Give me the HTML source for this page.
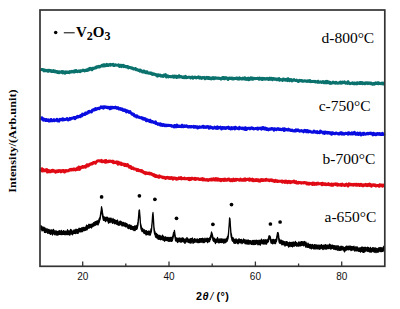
<!DOCTYPE html>
<html><head><meta charset="utf-8"><style>
html,body{margin:0;padding:0;background:#fff;}
body{width:400px;height:309px;overflow:hidden;}
svg{display:block;}
.sans{font-family:"Liberation Sans",sans-serif;}
.serif{font-family:"Liberation Serif",serif;}
</style></head><body>
<svg width="400" height="309" viewBox="0 0 400 309">
<rect width="400" height="309" fill="#fff"/>
<polyline fill="none" stroke="#0a716c" stroke-width="3.0" stroke-linejoin="round" points="40.5,69.4 41.0,69.7 41.5,69.5 42.0,69.4 42.5,69.7 43.0,69.5 43.5,70.1 44.0,70.8 44.5,70.1 45.0,70.1 45.5,70.7 46.0,70.8 46.5,70.7 47.0,70.4 47.5,70.9 48.0,71.3 48.5,70.4 49.0,70.9 49.5,70.3 50.0,70.7 50.5,70.5 51.0,71.3 51.5,70.9 52.0,71.6 52.5,71.6 53.0,71.5 53.5,70.5 54.0,71.5 54.5,71.7 55.0,71.9 55.5,71.2 56.0,71.7 56.5,71.5 57.0,71.6 57.5,72.5 58.0,71.7 58.5,72.1 59.0,72.6 59.5,71.9 60.0,72.2 60.5,72.3 61.0,72.3 61.5,71.7 62.0,72.3 62.5,72.9 63.0,71.6 63.5,72.7 64.0,72.3 64.5,72.0 65.0,73.2 65.5,72.6 66.0,71.7 66.5,72.2 67.0,72.4 67.5,72.1 68.0,72.4 68.5,72.0 69.0,72.3 69.5,72.6 70.0,71.6 70.5,72.0 71.0,71.7 71.5,71.9 72.0,71.2 72.5,71.5 73.0,71.6 73.5,72.0 74.0,72.1 74.5,70.9 75.0,71.1 75.5,71.7 76.0,70.5 76.5,71.2 77.0,71.3 77.5,71.8 78.0,71.5 78.5,71.0 79.0,70.9 79.5,70.9 80.0,71.7 80.5,70.7 81.0,70.7 81.5,71.0 82.0,70.7 82.5,70.6 83.0,70.1 83.5,70.5 84.0,70.3 84.5,70.9 85.0,70.6 85.5,70.2 86.0,70.4 86.5,69.9 87.0,70.4 87.5,69.9 88.0,70.1 88.5,69.1 89.0,69.8 89.5,68.7 90.0,68.4 90.5,69.1 91.0,68.7 91.5,69.0 92.0,69.8 92.5,68.3 93.0,68.2 93.5,68.4 94.0,68.4 94.5,67.9 95.0,67.8 95.5,68.0 96.0,67.8 96.5,66.9 97.0,67.2 97.5,67.1 98.0,66.5 98.5,67.0 99.0,66.3 99.5,67.0 100.0,66.6 100.5,66.4 101.0,66.0 101.5,66.1 102.0,65.2 102.5,65.5 103.0,66.0 103.5,64.8 104.0,66.0 104.5,64.7 105.0,65.8 105.5,65.0 106.0,65.6 106.5,65.2 107.0,64.4 107.5,65.6 108.0,65.6 108.5,64.9 109.0,64.7 109.5,64.8 110.0,64.4 110.5,65.3 111.0,64.6 111.5,64.8 112.0,64.5 112.5,64.6 113.0,64.3 113.5,65.5 114.0,64.9 114.5,65.4 115.0,65.1 115.5,64.8 116.0,65.0 116.5,65.0 117.0,65.3 117.5,65.2 118.0,65.3 118.5,64.9 119.0,65.2 119.5,66.4 120.0,65.4 120.5,65.3 121.0,66.0 121.5,66.6 122.0,65.3 122.5,66.0 123.0,65.9 123.5,65.4 124.0,66.7 124.5,66.4 125.0,66.5 125.5,66.3 126.0,66.9 126.5,66.6 127.0,66.9 127.5,66.5 128.0,66.6 128.5,67.9 129.0,67.2 129.5,67.6 130.0,67.6 130.5,67.6 131.0,67.7 131.5,68.3 132.0,68.0 132.5,68.2 133.0,68.4 133.5,69.1 134.0,69.0 134.5,69.0 135.0,68.7 135.5,68.5 136.0,69.7 136.5,69.8 137.0,69.5 137.5,69.9 138.0,70.2 138.5,70.3 139.0,70.5 139.5,70.0 140.0,71.1 140.5,70.0 141.0,71.1 141.5,71.1 142.0,71.4 142.5,72.0 143.0,72.0 143.5,71.0 144.0,70.9 144.5,72.2 145.0,71.6 145.5,72.2 146.0,72.7 146.5,71.8 147.0,71.7 147.5,72.9 148.0,73.0 148.5,73.0 149.0,73.3 149.5,73.0 150.0,72.8 150.5,73.5 151.0,73.3 151.5,73.1 152.0,74.2 152.5,74.1 153.0,74.4 153.5,73.9 154.0,74.2 154.5,74.1 155.0,74.3 155.5,74.9 156.0,74.5 156.5,75.2 157.0,75.3 157.5,76.1 158.0,74.7 158.5,75.8 159.0,75.4 159.5,75.6 160.0,75.0 160.5,75.5 161.0,76.1 161.5,75.8 162.0,75.9 162.5,75.8 163.0,76.5 163.5,76.0 164.0,75.1 164.5,75.8 165.0,75.3 165.5,74.7 166.0,76.0 166.5,76.9 167.0,76.3 167.5,75.8 168.0,75.9 168.5,76.9 169.0,76.5 169.5,76.5 170.0,76.4 170.5,76.5 171.0,76.9 171.5,76.8 172.0,76.7 172.5,76.1 173.0,76.8 173.5,76.3 174.0,77.2 174.5,76.1 175.0,76.6 175.5,76.7 176.0,76.2 176.5,77.5 177.0,77.4 177.5,76.6 178.0,77.2 178.5,77.0 179.0,75.7 179.5,77.0 180.0,76.9 180.5,77.0 181.0,76.5 181.5,76.8 182.0,76.9 182.5,77.5 183.0,77.2 183.5,77.0 184.0,77.7 184.5,76.8 185.0,76.9 185.5,76.3 186.0,77.8 186.5,77.6 187.0,77.6 187.5,77.5 188.0,77.2 188.5,77.3 189.0,77.1 189.5,77.2 190.0,77.3 190.5,78.0 191.0,77.6 191.5,77.3 192.0,77.1 192.5,77.1 193.0,78.1 193.5,77.7 194.0,77.5 194.5,77.3 195.0,77.0 195.5,77.5 196.0,77.9 196.5,77.4 197.0,77.5 197.5,77.5 198.0,77.7 198.5,76.9 199.0,77.5 199.5,77.3 200.0,78.1 200.5,77.4 201.0,78.0 201.5,78.4 202.0,77.6 202.5,77.5 203.0,77.9 203.5,77.8 204.0,77.4 204.5,78.0 205.0,78.8 205.5,77.8 206.0,77.8 206.5,77.4 207.0,78.1 207.5,77.4 208.0,77.5 208.5,78.5 209.0,77.6 209.5,78.5 210.0,78.7 210.5,78.1 211.0,78.3 211.5,78.9 212.0,78.0 212.5,77.8 213.0,77.5 213.5,78.1 214.0,78.8 214.5,78.6 215.0,77.7 215.5,77.8 216.0,77.9 216.5,78.3 217.0,78.1 217.5,78.3 218.0,78.4 218.5,78.1 219.0,78.2 219.5,78.4 220.0,78.2 220.5,78.5 221.0,79.1 221.5,78.6 222.0,78.3 222.5,77.6 223.0,78.5 223.5,77.5 224.0,77.7 224.5,78.8 225.0,78.7 225.5,78.3 226.0,77.6 226.5,78.2 227.0,78.1 227.5,78.7 228.0,79.5 228.5,78.6 229.0,78.1 229.5,77.9 230.0,78.5 230.5,78.4 231.0,78.0 231.5,78.6 232.0,78.0 232.5,79.0 233.0,79.0 233.5,79.0 234.0,78.3 234.5,78.8 235.0,78.5 235.5,78.4 236.0,78.4 236.5,78.0 237.0,77.9 237.5,79.0 238.0,78.5 238.5,78.7 239.0,79.1 239.5,77.8 240.0,78.3 240.5,78.7 241.0,78.8 241.5,78.5 242.0,79.1 242.5,78.7 243.0,78.1 243.5,78.2 244.0,79.0 244.5,78.9 245.0,77.8 245.5,79.3 246.0,78.9 246.5,79.3 247.0,78.5 247.5,78.5 248.0,78.2 248.5,79.8 249.0,78.6 249.5,79.4 250.0,78.4 250.5,78.8 251.0,77.9 251.5,78.5 252.0,79.1 252.5,78.1 253.0,79.2 253.5,78.9 254.0,78.2 254.5,78.5 255.0,78.5 255.5,78.7 256.0,78.5 256.5,78.4 257.0,78.6 257.5,78.3 258.0,78.2 258.5,78.7 259.0,79.2 259.5,78.1 260.0,78.8 260.5,78.5 261.0,78.3 261.5,79.2 262.0,78.6 262.5,79.5 263.0,78.4 263.5,79.0 264.0,78.7 264.5,78.5 265.0,79.1 265.5,78.8 266.0,79.1 266.5,78.9 267.0,78.4 267.5,78.9 268.0,78.9 268.5,79.4 269.0,78.6 269.5,79.0 270.0,78.2 270.5,79.3 271.0,78.6 271.5,78.3 272.0,79.1 272.5,79.6 273.0,78.5 273.5,78.7 274.0,78.9 274.5,78.7 275.0,79.4 275.5,78.9 276.0,79.0 276.5,79.6 277.0,79.0 277.5,79.6 278.0,79.0 278.5,78.9 279.0,78.6 279.5,80.3 280.0,79.4 280.5,79.7 281.0,79.6 281.5,79.7 282.0,79.7 282.5,80.5 283.0,79.2 283.5,79.0 284.0,79.3 284.5,79.2 285.0,80.2 285.5,80.2 286.0,79.5 286.5,79.3 287.0,79.8 287.5,80.6 288.0,78.7 288.5,80.3 289.0,79.6 289.5,80.6 290.0,79.6 290.5,80.0 291.0,79.5 291.5,79.8 292.0,80.9 292.5,80.6 293.0,80.1 293.5,80.0 294.0,79.5 294.5,80.2 295.0,80.4 295.5,80.5 296.0,80.5 296.5,80.1 297.0,80.6 297.5,80.6 298.0,81.3 298.5,81.5 299.0,80.7 299.5,80.4 300.0,80.8 300.5,80.6 301.0,80.6 301.5,80.9 302.0,80.5 302.5,81.3 303.0,81.0 303.5,81.2 304.0,81.0 304.5,80.8 305.0,80.8 305.5,81.1 306.0,81.0 306.5,81.4 307.0,81.3 307.5,80.8 308.0,81.4 308.5,80.8 309.0,81.2 309.5,81.4 310.0,80.6 310.5,81.6 311.0,81.7 311.5,81.5 312.0,81.5 312.5,81.5 313.0,81.3 313.5,81.6 314.0,81.5 314.5,81.8 315.0,81.3 315.5,81.9 316.0,81.9 316.5,81.8 317.0,81.7 317.5,82.2 318.0,81.2 318.5,82.2 319.0,82.1 319.5,82.2 320.0,82.2 320.5,81.8 321.0,82.0 321.5,82.4 322.0,82.4 322.5,82.3 323.0,81.5 323.5,82.5 324.0,82.8 324.5,82.8 325.0,82.4 325.5,81.6 326.0,82.8 326.5,82.3 327.0,81.3 327.5,82.6 328.0,81.8 328.5,81.9 329.0,82.2 329.5,83.1 330.0,82.4 330.5,82.7 331.0,83.4 331.5,83.3 332.0,82.6 332.5,82.5 333.0,82.1 333.5,82.4 334.0,82.9 334.5,82.9 335.0,82.8 335.5,83.2 336.0,82.4 336.5,82.7 337.0,83.1 337.5,83.1 338.0,83.3 338.5,83.0 339.0,82.7 339.5,83.0 340.0,82.4 340.5,82.1 341.0,83.1 341.5,82.8 342.0,83.0 342.5,82.1 343.0,82.7 343.5,82.6 344.0,82.5 344.5,81.9 345.0,82.8 345.5,83.3 346.0,83.1 346.5,82.7 347.0,82.9 347.5,83.3 348.0,81.7 348.5,82.9 349.0,83.2 349.5,83.3 350.0,83.8 350.5,83.5 351.0,83.2 351.5,83.2 352.0,83.4 352.5,82.8 353.0,83.0 353.5,83.5 354.0,83.9 354.5,83.0 355.0,83.1 355.5,83.2 356.0,83.7 356.5,83.1 357.0,83.8 357.5,82.7 358.0,83.0 358.5,83.0 359.0,83.5 359.5,83.6 360.0,82.5 360.5,82.7 361.0,83.3 361.5,82.9 362.0,82.5 362.5,83.7 363.0,83.4 363.5,83.4 364.0,83.0 364.5,83.7 365.0,83.1 365.5,83.7 366.0,82.8 366.5,82.9 367.0,83.3 367.5,82.9 368.0,83.6 368.5,83.4 369.0,82.9 369.5,83.3 370.0,83.1 370.5,83.7 371.0,83.0 371.5,83.1 372.0,83.9 372.5,84.3 373.0,84.2 373.5,83.4 374.0,83.5 374.5,84.1 375.0,83.3 375.5,82.9 376.0,83.4 376.5,83.6 377.0,83.0 377.5,82.7 378.0,82.8 378.5,83.7 379.0,83.1 379.5,83.4 380.0,83.5 380.5,83.7 381.0,83.3 381.5,83.7 382.0,83.1 382.5,83.3 383.0,83.0 383.5,84.0 384.0,83.5 384.5,83.2"/><polyline fill="none" stroke="#0a0de0" stroke-width="3.0" stroke-linejoin="round" points="40.5,118.0 41.0,118.2 41.5,118.8 42.0,117.9 42.5,118.3 43.0,118.8 43.5,120.2 44.0,119.6 44.5,119.3 45.0,119.8 45.5,120.5 46.0,119.6 46.5,119.6 47.0,120.4 47.5,120.2 48.0,120.4 48.5,119.9 49.0,121.1 49.5,121.1 50.0,120.6 50.5,120.7 51.0,119.5 51.5,120.7 52.0,120.4 52.5,120.7 53.0,120.8 53.5,120.3 54.0,119.7 54.5,120.6 55.0,120.1 55.5,120.3 56.0,120.1 56.5,120.2 57.0,119.3 57.5,120.9 58.0,120.4 58.5,120.7 59.0,121.1 59.5,120.2 60.0,119.3 60.5,119.6 61.0,119.5 61.5,119.7 62.0,119.9 62.5,118.9 63.0,120.0 63.5,119.1 64.0,119.8 64.5,119.6 65.0,119.4 65.5,119.5 66.0,119.2 66.5,119.1 67.0,118.5 67.5,119.2 68.0,119.9 68.5,119.9 69.0,119.5 69.5,119.2 70.0,118.4 70.5,119.3 71.0,118.5 71.5,118.4 72.0,118.2 72.5,118.3 73.0,117.9 73.5,117.9 74.0,117.4 74.5,117.6 75.0,118.6 75.5,117.5 76.0,117.3 76.5,117.5 77.0,117.4 77.5,116.4 78.0,116.7 78.5,117.0 79.0,116.5 79.5,116.3 80.0,116.7 80.5,115.5 81.0,115.6 81.5,115.2 82.0,115.9 82.5,114.1 83.0,114.5 83.5,114.3 84.0,114.6 84.5,114.4 85.0,114.5 85.5,113.0 86.0,113.8 86.5,113.1 87.0,112.8 87.5,113.1 88.0,112.3 88.5,111.6 89.0,112.1 89.5,111.4 90.0,111.6 90.5,111.8 91.0,111.6 91.5,111.9 92.0,110.9 92.5,110.1 93.0,110.2 93.5,109.9 94.0,109.5 94.5,110.0 95.0,109.3 95.5,108.5 96.0,109.5 96.5,108.9 97.0,108.9 97.5,108.6 98.0,108.6 98.5,108.2 99.0,108.6 99.5,108.1 100.0,108.0 100.5,107.8 101.0,106.9 101.5,107.4 102.0,107.3 102.5,107.5 103.0,106.8 103.5,108.1 104.0,107.5 104.5,106.9 105.0,106.7 105.5,107.3 106.0,107.4 106.5,107.1 107.0,107.5 107.5,107.2 108.0,107.8 108.5,107.2 109.0,107.5 109.5,108.0 110.0,108.8 110.5,107.2 111.0,107.5 111.5,107.3 112.0,108.1 112.5,107.3 113.0,107.6 113.5,107.8 114.0,107.4 114.5,107.5 115.0,107.8 115.5,107.1 116.0,107.5 116.5,108.0 117.0,108.4 117.5,108.3 118.0,107.7 118.5,108.4 119.0,109.0 119.5,109.0 120.0,108.9 120.5,108.6 121.0,109.4 121.5,109.0 122.0,108.9 122.5,109.2 123.0,110.3 123.5,109.9 124.0,110.5 124.5,109.9 125.0,110.7 125.5,110.1 126.0,110.5 126.5,111.9 127.0,111.3 127.5,110.9 128.0,111.3 128.5,111.8 129.0,112.4 129.5,111.9 130.0,111.6 130.5,112.6 131.0,113.0 131.5,113.3 132.0,114.2 132.5,114.0 133.0,114.5 133.5,114.0 134.0,115.2 134.5,116.0 135.0,115.7 135.5,115.7 136.0,115.9 136.5,116.9 137.0,115.9 137.5,116.5 138.0,117.0 138.5,117.3 139.0,117.0 139.5,117.5 140.0,117.4 140.5,117.8 141.0,117.9 141.5,117.6 142.0,118.3 142.5,118.8 143.0,118.2 143.5,118.7 144.0,119.2 144.5,118.6 145.0,119.3 145.5,118.9 146.0,120.1 146.5,120.8 147.0,120.8 147.5,119.9 148.0,120.5 148.5,120.4 149.0,120.6 149.5,121.4 150.0,120.2 150.5,121.5 151.0,121.1 151.5,122.0 152.0,121.6 152.5,121.4 153.0,122.0 153.5,122.4 154.0,122.3 154.5,122.7 155.0,122.4 155.5,121.9 156.0,123.5 156.5,123.6 157.0,123.5 157.5,123.6 158.0,124.3 158.5,123.8 159.0,123.8 159.5,124.2 160.0,124.9 160.5,123.9 161.0,125.2 161.5,124.5 162.0,124.4 162.5,125.5 163.0,125.0 163.5,124.5 164.0,124.9 164.5,125.6 165.0,125.7 165.5,125.1 166.0,125.5 166.5,125.7 167.0,125.1 167.5,125.6 168.0,125.5 168.5,125.3 169.0,125.3 169.5,125.6 170.0,125.6 170.5,125.4 171.0,125.5 171.5,126.2 172.0,125.8 172.5,126.2 173.0,126.3 173.5,126.1 174.0,126.9 174.5,125.5 175.0,126.3 175.5,125.8 176.0,126.8 176.5,126.7 177.0,125.1 177.5,125.6 178.0,126.4 178.5,126.4 179.0,126.4 179.5,126.1 180.0,126.3 180.5,126.5 181.0,126.1 181.5,126.7 182.0,125.2 182.5,126.5 183.0,125.8 183.5,126.7 184.0,126.2 184.5,125.9 185.0,126.5 185.5,126.0 186.0,126.0 186.5,125.7 187.0,126.4 187.5,126.7 188.0,127.0 188.5,126.5 189.0,127.0 189.5,126.6 190.0,126.6 190.5,126.9 191.0,127.1 191.5,126.5 192.0,126.6 192.5,126.7 193.0,126.8 193.5,126.4 194.0,127.3 194.5,126.6 195.0,127.1 195.5,126.5 196.0,127.1 196.5,127.1 197.0,126.8 197.5,127.9 198.0,127.2 198.5,127.8 199.0,127.5 199.5,126.8 200.0,126.9 200.5,127.3 201.0,127.2 201.5,127.2 202.0,127.0 202.5,126.4 203.0,127.1 203.5,126.2 204.0,127.4 204.5,126.9 205.0,127.0 205.5,127.2 206.0,127.5 206.5,126.7 207.0,126.6 207.5,126.9 208.0,126.5 208.5,127.0 209.0,128.2 209.5,127.0 210.0,127.8 210.5,126.9 211.0,127.7 211.5,127.4 212.0,127.5 212.5,127.8 213.0,128.4 213.5,127.7 214.0,127.7 214.5,127.2 215.0,127.9 215.5,127.6 216.0,128.1 216.5,127.7 217.0,128.5 217.5,126.9 218.0,127.6 218.5,128.2 219.0,127.6 219.5,127.5 220.0,127.7 220.5,127.2 221.0,127.9 221.5,129.0 222.0,128.4 222.5,127.4 223.0,127.5 223.5,127.8 224.0,128.4 224.5,127.6 225.0,127.7 225.5,128.4 226.0,128.4 226.5,127.9 227.0,127.5 227.5,127.4 228.0,127.8 228.5,127.1 229.0,128.4 229.5,127.8 230.0,128.3 230.5,129.0 231.0,128.7 231.5,127.6 232.0,128.6 232.5,128.7 233.0,127.9 233.5,127.8 234.0,128.2 234.5,127.5 235.0,128.9 235.5,127.2 236.0,127.8 236.5,128.2 237.0,128.2 237.5,128.4 238.0,128.4 238.5,128.2 239.0,128.8 239.5,127.4 240.0,128.3 240.5,128.0 241.0,128.4 241.5,128.5 242.0,127.9 242.5,128.1 243.0,128.7 243.5,128.5 244.0,128.1 244.5,129.3 245.0,129.4 245.5,127.7 246.0,128.5 246.5,129.5 247.0,128.8 247.5,128.5 248.0,128.3 248.5,128.2 249.0,128.3 249.5,128.2 250.0,128.8 250.5,128.3 251.0,128.2 251.5,127.9 252.0,128.4 252.5,128.1 253.0,128.4 253.5,128.9 254.0,128.6 254.5,128.7 255.0,128.6 255.5,128.5 256.0,128.4 256.5,128.4 257.0,128.8 257.5,128.0 258.0,129.1 258.5,128.5 259.0,128.2 259.5,128.3 260.0,128.2 260.5,128.6 261.0,128.2 261.5,129.1 262.0,128.2 262.5,127.6 263.0,128.3 263.5,127.7 264.0,128.6 264.5,129.1 265.0,128.9 265.5,128.1 266.0,128.3 266.5,129.5 267.0,128.9 267.5,128.7 268.0,129.2 268.5,129.9 269.0,129.4 269.5,128.9 270.0,129.0 270.5,129.2 271.0,128.6 271.5,128.5 272.0,129.0 272.5,128.6 273.0,129.0 273.5,129.1 274.0,130.1 274.5,128.7 275.0,129.1 275.5,129.1 276.0,129.4 276.5,129.7 277.0,129.0 277.5,128.9 278.0,128.6 278.5,129.0 279.0,129.6 279.5,129.5 280.0,129.0 280.5,129.3 281.0,129.6 281.5,129.8 282.0,129.3 282.5,129.5 283.0,128.9 283.5,129.2 284.0,130.5 284.5,128.8 285.0,129.7 285.5,129.9 286.0,129.7 286.5,129.5 287.0,129.9 287.5,130.0 288.0,130.0 288.5,129.2 289.0,130.0 289.5,129.7 290.0,129.9 290.5,130.3 291.0,130.5 291.5,130.6 292.0,130.0 292.5,130.7 293.0,130.8 293.5,130.9 294.0,131.0 294.5,130.4 295.0,130.4 295.5,130.9 296.0,129.9 296.5,130.7 297.0,130.4 297.5,130.5 298.0,129.9 298.5,130.3 299.0,130.7 299.5,131.2 300.0,131.2 300.5,130.8 301.0,130.8 301.5,130.5 302.0,131.1 302.5,130.9 303.0,131.3 303.5,131.8 304.0,131.1 304.5,130.4 305.0,130.8 305.5,130.5 306.0,130.7 306.5,131.8 307.0,131.4 307.5,130.6 308.0,131.7 308.5,132.0 309.0,131.3 309.5,131.2 310.0,131.3 310.5,131.7 311.0,131.9 311.5,132.1 312.0,132.2 312.5,132.2 313.0,132.3 313.5,132.0 314.0,131.1 314.5,131.7 315.0,132.0 315.5,131.7 316.0,132.3 316.5,131.8 317.0,131.6 317.5,132.7 318.0,132.4 318.5,132.2 319.0,132.6 319.5,132.7 320.0,132.4 320.5,131.1 321.0,132.0 321.5,132.1 322.0,131.9 322.5,132.5 323.0,133.0 323.5,132.3 324.0,132.0 324.5,133.5 325.0,132.4 325.5,132.1 326.0,132.8 326.5,132.9 327.0,132.4 327.5,133.1 328.0,132.6 328.5,132.4 329.0,133.0 329.5,133.3 330.0,132.7 330.5,133.1 331.0,133.0 331.5,134.3 332.0,132.7 332.5,133.7 333.0,133.1 333.5,133.1 334.0,133.5 334.5,133.6 335.0,133.8 335.5,133.4 336.0,133.0 336.5,133.0 337.0,133.5 337.5,133.5 338.0,133.9 338.5,133.5 339.0,133.8 339.5,134.0 340.0,133.4 340.5,132.7 341.0,132.8 341.5,132.7 342.0,134.1 342.5,133.0 343.0,133.9 343.5,133.7 344.0,134.2 344.5,133.9 345.0,133.4 345.5,133.3 346.0,133.5 346.5,133.5 347.0,133.2 347.5,133.4 348.0,134.2 348.5,132.7 349.0,133.6 349.5,133.1 350.0,133.6 350.5,133.9 351.0,133.5 351.5,133.9 352.0,132.8 352.5,134.0 353.0,133.3 353.5,133.8 354.0,133.7 354.5,132.4 355.0,133.3 355.5,133.7 356.0,134.3 356.5,133.8 357.0,133.8 357.5,133.0 358.0,134.3 358.5,134.5 359.0,133.7 359.5,133.6 360.0,133.0 360.5,134.1 361.0,134.9 361.5,134.1 362.0,134.3 362.5,134.0 363.0,133.3 363.5,134.4 364.0,133.2 364.5,133.7 365.0,133.9 365.5,134.2 366.0,134.0 366.5,134.0 367.0,133.5 367.5,133.3 368.0,133.9 368.5,133.6 369.0,133.3 369.5,133.3 370.0,133.7 370.5,133.1 371.0,133.3 371.5,133.2 372.0,134.0 372.5,134.2 373.0,134.9 373.5,133.3 374.0,133.7 374.5,134.4 375.0,133.9 375.5,133.9 376.0,134.8 376.5,133.9 377.0,133.6 377.5,133.5 378.0,134.3 378.5,134.3 379.0,133.5 379.5,133.7 380.0,134.4 380.5,134.4 381.0,133.9 381.5,134.5 382.0,134.5 382.5,133.4 383.0,134.1 383.5,134.4 384.0,134.0 384.5,133.3"/><polyline fill="none" stroke="#e00a14" stroke-width="3.0" stroke-linejoin="round" points="40.5,169.3 41.0,169.9 41.5,170.4 42.0,168.8 42.5,171.1 43.0,169.5 43.5,170.5 44.0,170.7 44.5,170.7 45.0,170.4 45.5,169.9 46.0,170.8 46.5,170.3 47.0,169.6 47.5,172.1 48.0,171.2 48.5,171.7 49.0,170.6 49.5,171.7 50.0,171.8 50.5,171.8 51.0,171.1 51.5,170.6 52.0,171.1 52.5,170.2 53.0,170.4 53.5,171.2 54.0,170.8 54.5,171.1 55.0,171.1 55.5,172.1 56.0,171.8 56.5,171.2 57.0,171.7 57.5,170.8 58.0,171.0 58.5,171.5 59.0,170.6 59.5,171.0 60.0,170.5 60.5,171.1 61.0,171.8 61.5,170.7 62.0,171.1 62.5,170.6 63.0,170.5 63.5,170.4 64.0,171.6 64.5,172.0 65.0,171.1 65.5,170.5 66.0,171.1 66.5,170.6 67.0,171.0 67.5,170.7 68.0,170.7 68.5,170.7 69.0,170.1 69.5,170.1 70.0,169.5 70.5,169.9 71.0,169.4 71.5,169.9 72.0,169.4 72.5,169.8 73.0,169.9 73.5,169.0 74.0,169.1 74.5,169.0 75.0,169.6 75.5,170.0 76.0,169.5 76.5,168.8 77.0,169.5 77.5,168.1 78.0,169.3 78.5,168.2 79.0,167.1 79.5,169.4 80.0,168.7 80.5,167.4 81.0,167.8 81.5,167.4 82.0,167.4 82.5,166.5 83.0,166.7 83.5,167.1 84.0,166.8 84.5,167.0 85.0,166.4 85.5,167.2 86.0,165.7 86.5,165.9 87.0,164.8 87.5,164.9 88.0,165.9 88.5,164.7 89.0,165.2 89.5,164.7 90.0,164.1 90.5,164.2 91.0,163.9 91.5,163.6 92.0,164.0 92.5,163.7 93.0,162.9 93.5,162.5 94.0,162.8 94.5,162.4 95.0,162.7 95.5,163.2 96.0,162.2 96.5,161.7 97.0,161.4 97.5,161.0 98.0,160.8 98.5,160.7 99.0,160.8 99.5,160.8 100.0,161.2 100.5,160.7 101.0,160.8 101.5,160.4 102.0,161.7 102.5,161.2 103.0,161.7 103.5,161.3 104.0,161.7 104.5,160.9 105.0,161.3 105.5,162.3 106.0,160.5 106.5,161.6 107.0,161.9 107.5,161.4 108.0,161.5 108.5,161.8 109.0,161.0 109.5,161.5 110.0,161.0 110.5,161.1 111.0,161.2 111.5,161.5 112.0,161.7 112.5,162.0 113.0,161.2 113.5,162.8 114.0,162.6 114.5,162.5 115.0,162.1 115.5,162.3 116.0,162.7 116.5,162.7 117.0,161.9 117.5,163.1 118.0,164.2 118.5,162.2 119.0,163.6 119.5,163.4 120.0,163.3 120.5,164.1 121.0,163.1 121.5,163.8 122.0,164.6 122.5,164.0 123.0,164.0 123.5,164.4 124.0,164.3 124.5,165.4 125.0,164.4 125.5,165.4 126.0,164.7 126.5,165.7 127.0,165.6 127.5,164.6 128.0,166.0 128.5,165.7 129.0,166.2 129.5,167.3 130.0,166.3 130.5,166.5 131.0,167.9 131.5,167.5 132.0,168.4 132.5,168.0 133.0,167.7 133.5,168.2 134.0,169.0 134.5,169.1 135.0,168.9 135.5,169.1 136.0,169.2 136.5,169.2 137.0,170.5 137.5,169.8 138.0,169.5 138.5,170.0 139.0,170.7 139.5,170.8 140.0,170.6 140.5,170.6 141.0,171.1 141.5,170.5 142.0,170.8 142.5,172.0 143.0,171.5 143.5,172.1 144.0,172.7 144.5,172.6 145.0,172.5 145.5,173.6 146.0,173.1 146.5,172.8 147.0,173.4 147.5,173.5 148.0,173.0 148.5,173.6 149.0,173.7 149.5,173.0 150.0,174.0 150.5,174.1 151.0,174.1 151.5,173.7 152.0,174.5 152.5,174.8 153.0,175.0 153.5,174.6 154.0,175.6 154.5,174.9 155.0,175.5 155.5,176.4 156.0,175.6 156.5,175.9 157.0,176.7 157.5,176.2 158.0,176.4 158.5,176.8 159.0,177.3 159.5,175.9 160.0,176.6 160.5,176.7 161.0,176.7 161.5,176.9 162.0,177.0 162.5,177.6 163.0,177.1 163.5,177.6 164.0,177.8 164.5,177.3 165.0,177.7 165.5,178.5 166.0,177.9 166.5,177.5 167.0,177.8 167.5,177.4 168.0,178.0 168.5,178.3 169.0,177.6 169.5,177.9 170.0,178.5 170.5,177.8 171.0,178.2 171.5,177.6 172.0,177.8 172.5,177.9 173.0,179.2 173.5,178.0 174.0,178.0 174.5,178.0 175.0,178.2 175.5,178.6 176.0,178.4 176.5,179.3 177.0,178.5 177.5,179.0 178.0,178.5 178.5,178.7 179.0,177.8 179.5,178.4 180.0,178.5 180.5,178.4 181.0,177.6 181.5,178.9 182.0,178.4 182.5,178.4 183.0,178.5 183.5,178.5 184.0,178.8 184.5,178.1 185.0,178.3 185.5,178.8 186.0,178.8 186.5,178.6 187.0,178.5 187.5,178.4 188.0,178.8 188.5,179.4 189.0,178.4 189.5,179.6 190.0,179.3 190.5,178.7 191.0,179.3 191.5,178.3 192.0,178.2 192.5,178.4 193.0,178.8 193.5,178.9 194.0,178.8 194.5,179.1 195.0,178.2 195.5,179.4 196.0,178.5 196.5,178.9 197.0,179.0 197.5,178.7 198.0,178.6 198.5,178.8 199.0,179.3 199.5,179.6 200.0,179.6 200.5,178.9 201.0,179.0 201.5,179.0 202.0,179.6 202.5,178.5 203.0,180.0 203.5,179.3 204.0,179.1 204.5,179.7 205.0,180.0 205.5,179.7 206.0,180.0 206.5,179.6 207.0,180.1 207.5,180.2 208.0,179.6 208.5,180.3 209.0,179.7 209.5,179.7 210.0,179.2 210.5,179.5 211.0,180.0 211.5,179.1 212.0,180.0 212.5,179.9 213.0,179.8 213.5,178.7 214.0,179.7 214.5,180.0 215.0,179.4 215.5,179.8 216.0,178.6 216.5,180.0 217.0,179.4 217.5,180.1 218.0,178.9 218.5,180.0 219.0,179.6 219.5,180.1 220.0,179.3 220.5,179.5 221.0,180.7 221.5,179.4 222.0,179.4 222.5,179.6 223.0,179.3 223.5,180.3 224.0,180.5 224.5,179.4 225.0,179.0 225.5,180.3 226.0,180.3 226.5,180.1 227.0,180.3 227.5,179.4 228.0,179.7 228.5,179.1 229.0,179.1 229.5,180.2 230.0,179.5 230.5,180.8 231.0,179.8 231.5,179.5 232.0,180.1 232.5,180.6 233.0,180.0 233.5,179.2 234.0,179.9 234.5,180.4 235.0,179.6 235.5,179.4 236.0,180.2 236.5,179.9 237.0,179.3 237.5,179.6 238.0,179.5 238.5,179.9 239.0,179.9 239.5,180.3 240.0,180.1 240.5,179.1 241.0,180.0 241.5,180.2 242.0,180.0 242.5,180.3 243.0,179.6 243.5,179.4 244.0,180.3 244.5,179.4 245.0,178.9 245.5,180.3 246.0,179.5 246.5,179.7 247.0,179.2 247.5,179.3 248.0,179.4 248.5,179.7 249.0,180.1 249.5,178.9 250.0,180.2 250.5,179.4 251.0,179.4 251.5,180.2 252.0,179.9 252.5,179.2 253.0,180.8 253.5,179.6 254.0,180.1 254.5,180.0 255.0,180.6 255.5,179.8 256.0,180.4 256.5,179.7 257.0,180.5 257.5,179.7 258.0,179.8 258.5,180.9 259.0,180.2 259.5,180.1 260.0,181.1 260.5,180.2 261.0,179.7 261.5,180.4 262.0,179.5 262.5,180.6 263.0,180.6 263.5,179.9 264.0,179.8 264.5,180.2 265.0,180.2 265.5,179.7 266.0,180.4 266.5,179.3 267.0,180.0 267.5,180.1 268.0,180.2 268.5,180.4 269.0,179.8 269.5,180.6 270.0,180.3 270.5,180.1 271.0,179.8 271.5,179.9 272.0,180.7 272.5,180.1 273.0,180.6 273.5,181.1 274.0,181.1 274.5,181.4 275.0,180.6 275.5,180.3 276.0,181.2 276.5,181.0 277.0,181.4 277.5,180.9 278.0,181.5 278.5,181.4 279.0,181.3 279.5,181.3 280.0,181.3 280.5,181.2 281.0,181.3 281.5,181.7 282.0,181.0 282.5,182.1 283.0,181.3 283.5,181.8 284.0,181.4 284.5,181.3 285.0,182.4 285.5,181.4 286.0,181.0 286.5,181.3 287.0,181.5 287.5,182.6 288.0,181.8 288.5,182.2 289.0,181.3 289.5,182.0 290.0,182.1 290.5,182.7 291.0,181.6 291.5,182.2 292.0,182.1 292.5,181.6 293.0,182.0 293.5,182.0 294.0,181.1 294.5,182.4 295.0,182.5 295.5,182.0 296.0,181.7 296.5,183.0 297.0,182.5 297.5,182.9 298.0,183.1 298.5,182.2 299.0,182.9 299.5,182.4 300.0,182.6 300.5,182.6 301.0,182.7 301.5,183.2 302.0,182.8 302.5,182.7 303.0,182.7 303.5,183.0 304.0,182.5 304.5,182.7 305.0,182.9 305.5,182.8 306.0,183.0 306.5,182.8 307.0,184.0 307.5,183.7 308.0,183.4 308.5,183.2 309.0,184.2 309.5,183.4 310.0,183.3 310.5,183.5 311.0,183.5 311.5,184.0 312.0,183.4 312.5,184.4 313.0,183.1 313.5,183.8 314.0,183.1 314.5,184.4 315.0,183.5 315.5,183.6 316.0,184.1 316.5,184.3 317.0,183.2 317.5,183.6 318.0,183.2 318.5,183.9 319.0,183.8 319.5,183.7 320.0,183.6 320.5,183.8 321.0,183.6 321.5,184.2 322.0,184.7 322.5,183.2 323.0,184.0 323.5,183.9 324.0,184.4 324.5,183.8 325.0,184.1 325.5,183.8 326.0,184.6 326.5,184.3 327.0,184.2 327.5,184.5 328.0,184.3 328.5,183.7 329.0,184.7 329.5,184.6 330.0,184.4 330.5,184.9 331.0,185.1 331.5,184.0 332.0,184.2 332.5,185.3 333.0,185.2 333.5,184.3 334.0,184.1 334.5,184.3 335.0,184.4 335.5,183.9 336.0,184.7 336.5,184.1 337.0,184.1 337.5,185.1 338.0,184.4 338.5,184.7 339.0,185.0 339.5,185.1 340.0,184.6 340.5,184.7 341.0,184.4 341.5,185.5 342.0,185.0 342.5,184.2 343.0,184.7 343.5,185.1 344.0,185.0 344.5,185.6 345.0,185.4 345.5,184.5 346.0,184.7 346.5,184.2 347.0,184.9 347.5,184.8 348.0,186.0 348.5,184.8 349.0,183.8 349.5,184.5 350.0,184.9 350.5,184.2 351.0,184.4 351.5,184.7 352.0,185.0 352.5,184.8 353.0,184.4 353.5,185.2 354.0,184.6 354.5,184.6 355.0,184.2 355.5,184.5 356.0,185.2 356.5,184.2 357.0,184.9 357.5,185.2 358.0,184.7 358.5,185.0 359.0,184.4 359.5,185.5 360.0,185.4 360.5,185.1 361.0,184.2 361.5,184.5 362.0,185.4 362.5,185.7 363.0,185.1 363.5,185.6 364.0,184.7 364.5,184.9 365.0,185.0 365.5,185.2 366.0,184.4 366.5,185.5 367.0,185.7 367.5,184.6 368.0,184.5 368.5,185.3 369.0,184.8 369.5,184.0 370.0,185.5 370.5,185.2 371.0,184.9 371.5,186.1 372.0,185.2 372.5,184.8 373.0,185.2 373.5,184.7 374.0,184.9 374.5,185.4 375.0,185.0 375.5,185.0 376.0,186.0 376.5,185.7 377.0,185.6 377.5,185.5 378.0,185.5 378.5,186.0 379.0,185.3 379.5,186.2 380.0,184.9 380.5,185.3 381.0,184.8 381.5,185.2 382.0,185.6 382.5,186.1 383.0,185.1 383.5,185.5 384.0,185.3 384.5,185.2"/><polygon fill="#000" stroke="#000" stroke-width="1.1" stroke-linejoin="round" points="40.5,225.4 41.0,226.4 41.5,225.9 42.0,226.8 42.5,227.0 43.0,227.2 43.5,227.3 44.0,227.1 44.5,229.3 45.0,227.7 45.5,229.1 46.0,229.1 46.5,229.4 47.0,228.4 47.5,230.2 48.0,230.7 48.5,229.5 49.0,229.3 49.5,230.9 50.0,230.1 50.5,231.0 51.0,229.8 51.5,230.7 52.0,229.8 52.5,231.5 53.0,230.6 53.5,229.3 54.0,230.4 54.5,231.0 55.0,232.0 55.5,231.1 56.0,230.6 56.5,231.6 57.0,232.0 57.5,231.5 58.0,231.2 58.5,231.4 59.0,230.8 59.5,230.6 60.0,230.9 60.5,231.0 61.0,231.6 61.5,230.2 62.0,232.0 62.5,231.9 63.0,231.4 63.5,230.5 64.0,231.0 64.5,231.7 65.0,231.3 65.5,231.1 66.0,231.9 66.5,231.3 67.0,230.9 67.5,229.6 68.0,231.1 68.5,230.9 69.0,230.8 69.5,231.8 70.0,231.2 70.5,229.3 71.0,230.9 71.5,229.7 72.0,231.2 72.5,231.6 73.0,231.0 73.5,230.6 74.0,229.9 74.5,230.0 75.0,230.2 75.5,230.1 76.0,229.1 76.5,230.3 77.0,229.4 77.5,229.5 78.0,229.7 78.5,229.1 79.0,228.2 79.5,228.5 80.0,228.4 80.5,228.8 81.0,228.7 81.5,227.8 82.0,228.2 82.5,228.0 83.0,227.2 83.5,227.2 84.0,228.1 84.5,227.6 85.0,227.2 85.5,227.0 86.0,227.1 86.5,225.0 87.0,226.3 87.5,225.9 88.0,225.5 88.5,224.8 89.0,224.1 89.5,224.9 90.0,224.5 90.5,224.5 91.0,224.1 91.5,224.9 92.0,224.0 92.5,224.0 93.0,223.4 93.5,222.8 94.0,222.6 94.5,222.1 95.0,222.3 95.5,221.5 96.0,221.6 96.5,221.0 97.0,221.1 97.5,220.8 98.0,221.2 98.5,220.3 99.0,219.3 99.5,218.0 100.0,217.3 100.5,214.2 101.0,211.2 101.5,206.6 102.0,208.7 102.5,212.2 103.0,215.2 103.5,217.2 104.0,216.7 104.5,217.3 105.0,217.3 105.5,218.1 106.0,217.2 106.5,217.7 107.0,217.0 107.5,217.4 108.0,219.0 108.5,218.9 109.0,217.8 109.5,219.3 110.0,218.3 110.5,219.0 111.0,217.9 111.5,219.3 112.0,219.2 112.5,220.5 113.0,218.3 113.5,219.8 114.0,219.6 114.5,219.8 115.0,219.7 115.5,220.5 116.0,220.7 116.5,220.4 117.0,220.9 117.5,219.9 118.0,221.4 118.5,222.7 119.0,221.9 119.5,221.6 120.0,221.0 120.5,221.5 121.0,221.4 121.5,221.9 122.0,222.6 122.5,222.4 123.0,222.4 123.5,222.2 124.0,222.9 124.5,223.5 125.0,222.8 125.5,223.0 126.0,224.3 126.5,223.4 127.0,223.8 127.5,224.4 128.0,225.3 128.5,225.7 129.0,224.8 129.5,224.7 130.0,224.9 130.5,226.2 131.0,225.3 131.5,226.1 132.0,226.3 132.5,226.4 133.0,226.6 133.5,226.6 134.0,227.6 134.5,225.9 135.0,227.1 135.5,226.3 136.0,225.5 136.5,226.6 137.0,225.4 137.5,224.2 138.0,221.4 138.5,216.4 139.0,210.3 139.5,209.9 140.0,215.5 140.5,223.0 141.0,225.1 141.5,227.3 142.0,228.4 142.5,228.2 143.0,229.3 143.5,229.8 144.0,229.9 144.5,229.7 145.0,230.5 145.5,230.8 146.0,231.6 146.5,230.6 147.0,231.3 147.5,231.5 148.0,231.5 148.5,231.2 149.0,230.8 149.5,231.4 150.0,232.0 150.5,231.5 151.0,228.8 151.5,227.9 152.0,222.7 152.5,215.3 153.0,212.4 153.5,218.3 154.0,226.8 154.5,230.5 155.0,231.5 155.5,233.8 156.0,234.4 156.5,233.3 157.0,235.0 157.5,234.4 158.0,235.5 158.5,235.2 159.0,235.3 159.5,235.6 160.0,235.3 160.5,236.2 161.0,237.1 161.5,236.2 162.0,235.9 162.5,235.0 163.0,237.1 163.5,236.2 164.0,236.9 164.5,238.0 165.0,237.2 165.5,236.8 166.0,237.2 166.5,237.4 167.0,237.5 167.5,237.5 168.0,237.2 168.5,238.6 169.0,237.7 169.5,238.5 170.0,237.2 170.5,237.3 171.0,237.8 171.5,237.3 172.0,237.6 172.5,236.9 173.0,235.2 173.5,232.6 174.0,232.0 174.5,230.2 175.0,234.0 175.5,237.6 176.0,237.8 176.5,237.9 177.0,238.0 177.5,239.8 178.0,238.1 178.5,238.7 179.0,238.3 179.5,238.0 180.0,237.9 180.5,239.0 181.0,238.7 181.5,238.6 182.0,237.9 182.5,237.8 183.0,238.6 183.5,238.1 184.0,238.9 184.5,239.9 185.0,240.3 185.5,238.9 186.0,239.0 186.5,238.3 187.0,237.4 187.5,238.7 188.0,239.0 188.5,239.5 189.0,239.1 189.5,239.3 190.0,239.7 190.5,238.6 191.0,239.7 191.5,238.6 192.0,238.4 192.5,237.9 193.0,240.4 193.5,239.5 194.0,240.0 194.5,238.5 195.0,239.1 195.5,239.0 196.0,239.2 196.5,239.2 197.0,239.4 197.5,238.8 198.0,239.4 198.5,239.5 199.0,239.1 199.5,238.6 200.0,238.5 200.5,239.5 201.0,238.6 201.5,239.0 202.0,238.5 202.5,238.1 203.0,239.5 203.5,238.7 204.0,239.3 204.5,239.7 205.0,238.0 205.5,239.4 206.0,238.9 206.5,238.6 207.0,238.0 207.5,238.2 208.0,238.5 208.5,238.8 209.0,238.7 209.5,237.8 210.0,237.7 210.5,236.1 211.0,234.6 211.5,231.9 212.0,233.2 212.5,234.8 213.0,237.4 213.5,238.2 214.0,237.9 214.5,238.4 215.0,239.2 215.5,240.2 216.0,239.0 216.5,239.4 217.0,239.2 217.5,237.4 218.0,238.7 218.5,239.2 219.0,240.1 219.5,239.1 220.0,238.7 220.5,239.1 221.0,239.3 221.5,238.8 222.0,239.0 222.5,239.2 223.0,239.1 223.5,239.3 224.0,239.6 224.5,239.1 225.0,239.2 225.5,239.5 226.0,238.9 226.5,239.0 227.0,238.1 227.5,236.5 228.0,236.0 228.5,232.3 229.0,225.9 229.5,217.9 230.0,218.5 230.5,225.9 231.0,232.6 231.5,234.5 232.0,236.9 232.5,237.9 233.0,237.5 233.5,238.9 234.0,239.6 234.5,239.3 235.0,240.1 235.5,240.2 236.0,238.6 236.5,240.1 237.0,240.0 237.5,239.7 238.0,240.2 238.5,239.1 239.0,238.9 239.5,239.0 240.0,239.6 240.5,239.8 241.0,239.5 241.5,239.3 242.0,240.4 242.5,240.2 243.0,240.4 243.5,238.8 244.0,239.5 244.5,239.7 245.0,239.7 245.5,239.9 246.0,240.9 246.5,240.0 247.0,240.8 247.5,240.1 248.0,240.5 248.5,240.0 249.0,240.7 249.5,240.7 250.0,240.5 250.5,241.0 251.0,240.9 251.5,241.2 252.0,240.9 252.5,240.3 253.0,241.0 253.5,240.4 254.0,241.5 254.5,240.6 255.0,240.1 255.5,241.5 256.0,240.9 256.5,240.1 257.0,240.6 257.5,240.4 258.0,242.0 258.5,240.7 259.0,240.0 259.5,241.7 260.0,240.4 260.5,241.5 261.0,239.8 261.5,239.0 262.0,240.8 262.5,240.2 263.0,240.2 263.5,239.7 264.0,241.1 264.5,240.7 265.0,239.4 265.5,240.7 266.0,239.7 266.5,241.1 267.0,239.8 267.5,239.7 268.0,239.4 268.5,237.7 269.0,235.7 269.5,235.7 270.0,236.2 270.5,237.3 271.0,240.8 271.5,239.8 272.0,239.8 272.5,240.1 273.0,239.4 273.5,239.3 274.0,240.1 274.5,240.1 275.0,239.5 275.5,240.4 276.0,239.2 276.5,238.2 277.0,235.4 277.5,232.6 278.0,232.4 278.5,234.1 279.0,237.9 279.5,239.5 280.0,240.3 280.5,240.1 281.0,240.8 281.5,240.1 282.0,241.2 282.5,240.9 283.0,240.9 283.5,241.4 284.0,242.0 284.5,241.6 285.0,242.4 285.5,241.9 286.0,241.6 286.5,241.8 287.0,241.6 287.5,242.4 288.0,242.5 288.5,243.0 289.0,243.5 289.5,242.1 290.0,243.6 290.5,242.5 291.0,242.4 291.5,243.1 292.0,242.3 292.5,243.3 293.0,242.1 293.5,241.9 294.0,243.0 294.5,242.2 295.0,242.1 295.5,241.3 296.0,242.8 296.5,242.6 297.0,243.2 297.5,243.3 298.0,243.4 298.5,241.9 299.0,242.7 299.5,242.1 300.0,242.1 300.5,243.1 301.0,241.8 301.5,241.5 302.0,241.9 302.5,242.3 303.0,241.6 303.5,242.7 304.0,241.9 304.5,241.3 305.0,241.8 305.5,243.6 306.0,242.1 306.5,243.8 307.0,244.3 307.5,244.2 308.0,243.1 308.5,244.0 309.0,244.3 309.5,245.4 310.0,244.4 310.5,244.3 311.0,245.2 311.5,244.8 312.0,244.9 312.5,244.4 313.0,245.4 313.5,245.2 314.0,245.4 314.5,244.5 315.0,245.8 315.5,245.0 316.0,244.6 316.5,245.5 317.0,245.2 317.5,245.1 318.0,245.8 318.5,245.2 319.0,244.9 319.5,245.6 320.0,245.6 320.5,245.9 321.0,244.7 321.5,244.5 322.0,245.8 322.5,245.4 323.0,246.3 323.5,245.6 324.0,244.9 324.5,245.6 325.0,245.1 325.5,244.5 326.0,246.5 326.5,245.3 327.0,245.1 327.5,245.0 328.0,245.6 328.5,245.1 329.0,245.3 329.5,244.0 330.0,244.2 330.5,245.7 331.0,245.1 331.5,245.7 332.0,245.1 332.5,245.1 333.0,245.2 333.5,246.1 334.0,245.6 334.5,246.5 335.0,245.5 335.5,246.3 336.0,246.4 336.5,246.1 337.0,245.5 337.5,246.6 338.0,248.2 338.5,245.9 339.0,246.5 339.5,247.2 340.0,247.1 340.5,246.6 341.0,246.0 341.5,247.0 342.0,246.3 342.5,246.7 343.0,247.4 343.5,246.8 344.0,247.3 344.5,248.1 345.0,247.2 345.5,247.3 346.0,246.3 346.5,246.5 347.0,246.0 347.5,246.9 348.0,246.8 348.5,246.2 349.0,246.6 349.5,246.0 350.0,246.2 350.5,246.0 351.0,246.7 351.5,246.4 352.0,247.0 352.5,246.7 353.0,246.5 353.5,246.6 354.0,246.1 354.5,247.9 355.0,247.8 355.5,246.9 356.0,246.9 356.5,247.3 357.0,246.8 357.5,247.2 358.0,248.3 358.5,248.0 359.0,248.1 359.5,248.0 360.0,247.7 360.5,247.8 361.0,248.2 361.5,247.1 362.0,248.0 362.5,247.1 363.0,249.5 363.5,247.3 364.0,249.0 364.5,247.2 365.0,247.7 365.5,247.2 366.0,247.4 366.5,247.9 367.0,248.5 367.5,247.1 368.0,248.5 368.5,247.4 369.0,248.1 369.5,248.8 370.0,248.5 370.5,247.3 371.0,248.9 371.5,248.4 372.0,248.7 372.5,247.7 373.0,247.5 373.5,247.9 374.0,248.8 374.5,249.2 375.0,247.5 375.5,248.6 376.0,249.7 376.5,248.2 377.0,248.2 377.5,249.4 378.0,249.3 378.5,248.2 379.0,247.6 379.5,247.8 380.0,248.1 380.5,247.8 381.0,247.3 381.5,248.6 382.0,248.1 382.5,248.2 383.0,247.7 383.5,246.9 384.0,246.1 384.5,247.4 384.5,249.8 384.0,250.0 383.5,250.4 383.0,251.6 382.5,251.4 382.0,251.5 381.5,251.8 381.0,251.2 380.5,251.7 380.0,250.5 379.5,250.8 379.0,251.7 378.5,251.9 378.0,252.3 377.5,252.3 377.0,251.8 376.5,251.6 376.0,252.8 375.5,251.5 375.0,251.8 374.5,252.3 374.0,252.3 373.5,251.5 373.0,251.1 372.5,251.0 372.0,251.8 371.5,252.1 371.0,252.2 370.5,250.8 370.0,252.1 369.5,252.0 369.0,251.2 368.5,251.0 368.0,251.6 367.5,250.4 367.0,251.1 366.5,250.8 366.0,251.0 365.5,250.7 365.0,251.7 364.5,251.5 364.0,252.5 363.5,251.1 363.0,252.5 362.5,250.5 362.0,251.6 361.5,251.2 361.0,251.4 360.5,252.2 360.0,251.2 359.5,251.4 359.0,251.4 358.5,251.2 358.0,251.3 357.5,250.2 357.0,249.7 356.5,251.0 356.0,249.3 355.5,250.6 355.0,251.1 354.5,251.0 354.0,249.4 353.5,249.9 353.0,249.7 352.5,250.0 352.0,250.2 351.5,250.2 351.0,250.7 350.5,249.5 350.0,248.5 349.5,249.6 349.0,249.9 348.5,249.9 348.0,249.5 347.5,249.6 347.0,249.5 346.5,250.1 346.0,249.7 345.5,250.7 345.0,250.7 344.5,252.0 344.0,251.1 343.5,250.0 343.0,250.0 342.5,249.7 342.0,249.4 341.5,250.1 341.0,249.9 340.5,250.2 340.0,250.4 339.5,250.5 339.0,249.9 338.5,249.2 338.0,250.6 337.5,249.9 337.0,249.0 336.5,249.8 336.0,249.7 335.5,249.6 335.0,249.2 334.5,249.2 334.0,249.1 333.5,249.2 333.0,247.9 332.5,248.2 332.0,248.4 331.5,248.6 331.0,249.3 330.5,249.1 330.0,247.6 329.5,247.8 329.0,248.7 328.5,247.9 328.0,248.7 327.5,248.7 327.0,248.7 326.5,248.5 326.0,249.5 325.5,247.8 325.0,247.7 324.5,249.0 324.0,248.0 323.5,249.1 323.0,249.6 322.5,249.0 322.0,248.8 321.5,247.5 321.0,248.0 320.5,248.9 320.0,248.7 319.5,249.3 319.0,248.4 318.5,248.3 318.0,249.2 317.5,248.6 317.0,248.5 316.5,248.9 316.0,247.8 315.5,248.9 315.0,248.7 314.5,248.4 314.0,249.2 313.5,248.7 313.0,248.2 312.5,247.8 312.0,248.4 311.5,249.0 311.0,248.5 310.5,247.1 310.0,248.3 309.5,248.1 309.0,247.5 308.5,247.5 308.0,246.9 307.5,247.5 307.0,247.3 306.5,247.0 306.0,245.4 305.5,247.2 305.0,245.2 304.5,244.6 304.0,245.4 303.5,246.0 303.0,245.4 302.5,245.0 302.0,245.4 301.5,244.6 301.0,245.9 300.5,246.0 300.0,245.2 299.5,244.9 299.0,246.4 298.5,245.3 298.0,246.0 297.5,245.9 297.0,246.3 296.5,246.3 296.0,245.5 295.5,244.1 295.0,245.8 294.5,245.9 294.0,246.4 293.5,245.2 293.0,245.7 292.5,247.0 292.0,245.9 291.5,246.4 291.0,245.9 290.5,245.4 290.0,246.7 289.5,245.5 289.0,246.3 288.5,247.1 288.0,245.5 287.5,244.7 287.0,245.4 286.5,245.3 286.0,245.3 285.5,245.1 285.0,246.3 284.5,244.2 284.0,245.0 283.5,244.8 283.0,244.5 282.5,244.0 282.0,245.0 281.5,243.9 281.0,243.8 280.5,243.0 280.0,243.2 279.5,243.2 279.0,242.0 278.5,237.5 278.0,236.1 277.5,235.3 277.0,239.3 276.5,241.4 276.0,242.0 275.5,243.8 275.0,242.9 274.5,243.0 274.0,243.8 273.5,242.8 273.0,242.6 272.5,243.9 272.0,243.0 271.5,243.3 271.0,243.2 270.5,240.4 270.0,239.0 269.5,238.8 269.0,238.5 268.5,241.6 268.0,242.2 267.5,242.7 267.0,242.6 266.5,244.3 266.0,243.1 265.5,244.1 265.0,242.3 264.5,243.9 264.0,244.2 263.5,242.1 263.0,244.0 262.5,243.5 262.0,243.6 261.5,242.5 261.0,243.2 260.5,245.2 260.0,243.8 259.5,244.8 259.0,243.3 258.5,243.9 258.0,244.9 257.5,244.0 257.0,243.7 256.5,243.3 256.0,244.1 255.5,244.5 255.0,242.7 254.5,244.3 254.0,244.7 253.5,244.4 253.0,244.6 252.5,244.0 252.0,244.2 251.5,244.5 251.0,244.0 250.5,243.5 250.0,243.4 249.5,244.0 249.0,244.2 248.5,243.5 248.0,244.3 247.5,243.4 247.0,243.9 246.5,243.8 246.0,243.9 245.5,243.0 245.0,243.7 244.5,242.6 244.0,242.4 243.5,242.0 243.0,242.9 242.5,242.8 242.0,243.7 241.5,242.4 241.0,242.5 240.5,243.0 240.0,242.5 239.5,242.6 239.0,242.9 238.5,242.9 238.0,244.0 237.5,243.4 237.0,243.0 236.5,242.7 236.0,242.0 235.5,243.3 235.0,243.5 234.5,242.4 234.0,243.2 233.5,242.2 233.0,240.6 232.5,241.3 232.0,240.5 231.5,238.0 231.0,236.3 230.5,229.2 230.0,221.9 229.5,221.0 229.0,228.2 228.5,235.1 228.0,238.9 227.5,240.3 227.0,241.5 226.5,241.7 226.0,242.2 225.5,242.8 225.0,242.8 224.5,242.5 224.0,243.2 223.5,243.1 223.0,241.9 222.5,242.0 222.0,242.7 221.5,242.3 221.0,242.6 220.5,242.4 220.0,242.6 219.5,241.7 219.0,243.0 218.5,242.5 218.0,242.6 217.5,241.6 217.0,242.1 216.5,242.4 216.0,241.9 215.5,243.7 215.0,242.6 214.5,241.6 214.0,241.6 213.5,241.2 213.0,240.7 212.5,237.7 212.0,236.3 211.5,236.2 211.0,237.5 210.5,239.3 210.0,240.3 209.5,241.7 209.0,241.3 208.5,242.0 208.0,241.7 207.5,242.7 207.0,241.5 206.5,241.5 206.0,241.1 205.5,241.8 205.0,241.8 204.5,242.3 204.0,242.7 203.5,241.8 203.0,242.8 202.5,241.2 202.0,241.9 201.5,242.2 201.0,242.0 200.5,242.3 200.0,242.3 199.5,242.5 199.0,242.6 198.5,242.0 198.0,242.8 197.5,242.2 197.0,242.3 196.5,242.2 196.0,241.5 195.5,241.8 195.0,242.3 194.5,242.0 194.0,242.8 193.5,242.8 193.0,243.3 192.5,241.1 192.0,241.5 191.5,242.0 191.0,243.2 190.5,242.1 190.0,243.1 189.5,242.4 189.0,242.6 188.5,242.5 188.0,241.9 187.5,242.1 187.0,240.2 186.5,241.9 186.0,242.0 185.5,242.0 185.0,243.5 184.5,242.8 184.0,242.4 183.5,241.7 183.0,241.8 182.5,240.9 182.0,241.7 181.5,241.6 181.0,242.5 180.5,241.7 180.0,241.4 179.5,240.8 179.0,242.0 178.5,241.6 178.0,241.7 177.5,242.6 177.0,241.3 176.5,241.3 176.0,241.1 175.5,240.9 175.0,237.4 174.5,234.7 174.0,235.0 173.5,235.9 173.0,238.3 172.5,240.5 172.0,241.2 171.5,241.5 171.0,241.1 170.5,241.1 170.0,241.2 169.5,241.2 169.0,241.4 168.5,241.3 168.0,240.3 167.5,240.9 167.0,240.6 166.5,240.5 166.0,240.4 165.5,240.6 165.0,240.9 164.5,241.3 164.0,240.5 163.5,239.0 163.0,240.4 162.5,238.7 162.0,239.1 161.5,239.6 161.0,239.4 160.5,239.8 160.0,238.8 159.5,239.2 159.0,239.4 158.5,238.7 158.0,239.2 157.5,237.2 157.0,238.3 156.5,237.0 156.0,237.5 155.5,236.9 155.0,234.8 154.5,234.0 154.0,230.6 153.5,222.7 153.0,216.6 152.5,219.3 152.0,225.6 151.5,231.0 151.0,232.9 150.5,234.7 150.0,235.3 149.5,234.6 149.0,235.0 148.5,234.7 148.0,234.3 147.5,234.6 147.0,234.9 146.5,234.0 146.0,235.0 145.5,233.5 145.0,233.7 144.5,233.4 144.0,233.2 143.5,232.8 143.0,231.6 142.5,231.4 142.0,231.6 141.5,230.4 141.0,229.1 140.5,225.5 140.0,219.4 139.5,213.3 139.0,213.9 138.5,219.8 138.0,225.2 137.5,227.5 137.0,229.2 136.5,229.4 136.0,229.5 135.5,229.7 135.0,230.7 134.5,228.9 134.0,230.6 133.5,229.9 133.0,229.7 132.5,229.6 132.0,229.5 131.5,229.3 131.0,228.6 130.5,229.4 130.0,228.7 129.5,227.6 129.0,228.2 128.5,228.7 128.0,228.5 127.5,227.0 127.0,226.3 126.5,226.4 126.0,227.1 125.5,226.7 125.0,226.0 124.5,226.3 124.0,225.9 123.5,225.2 123.0,225.9 122.5,224.9 122.0,226.1 121.5,224.9 121.0,224.7 120.5,224.6 120.0,224.2 119.5,225.2 119.0,225.3 118.5,225.2 118.0,225.1 117.5,223.4 117.0,224.5 116.5,224.1 116.0,223.6 115.5,223.7 115.0,223.4 114.5,223.8 114.0,223.0 113.5,223.0 113.0,221.9 112.5,223.4 112.0,222.4 111.5,222.1 111.0,221.7 110.5,221.4 110.0,222.8 109.5,222.3 109.0,220.7 108.5,223.3 108.0,221.6 107.5,220.8 107.0,220.5 106.5,220.8 106.0,220.9 105.5,221.7 105.0,220.7 104.5,220.5 104.0,219.9 103.5,220.5 103.0,218.9 102.5,215.7 102.0,211.9 101.5,210.5 101.0,214.1 100.5,217.0 100.0,219.9 99.5,221.1 99.0,223.0 98.5,223.7 98.0,225.1 97.5,224.3 97.0,223.8 96.5,224.6 96.0,224.6 95.5,225.3 95.0,225.5 94.5,225.8 94.0,225.7 93.5,226.3 93.0,226.2 92.5,226.7 92.0,227.2 91.5,228.1 91.0,226.8 90.5,227.4 90.0,227.3 89.5,228.1 89.0,227.7 88.5,228.2 88.0,228.4 87.5,228.9 87.0,229.9 86.5,228.1 86.0,230.2 85.5,230.3 85.0,230.6 84.5,230.8 84.0,230.7 83.5,230.6 83.0,230.6 82.5,231.7 82.0,231.8 81.5,230.9 81.0,231.9 80.5,231.9 80.0,231.7 79.5,231.5 79.0,231.8 78.5,233.0 78.0,233.2 77.5,233.5 77.0,232.3 76.5,233.3 76.0,232.8 75.5,233.6 75.0,233.5 74.5,233.4 74.0,233.6 73.5,233.8 73.0,232.8 72.5,235.0 72.0,234.4 71.5,232.6 71.0,234.0 70.5,232.7 70.0,235.1 69.5,235.1 69.0,234.0 68.5,234.5 68.0,234.8 67.5,233.3 67.0,234.6 66.5,234.3 66.0,234.8 65.5,234.7 65.0,234.6 64.5,234.8 64.0,234.6 63.5,234.1 63.0,234.5 62.5,234.3 62.0,234.7 61.5,233.1 61.0,234.8 60.5,233.7 60.0,234.5 59.5,234.5 59.0,234.1 58.5,234.9 58.0,234.5 57.5,234.6 57.0,235.4 56.5,234.7 56.0,233.7 55.5,233.6 55.0,235.1 54.5,234.2 54.0,234.2 53.5,232.7 53.0,233.5 52.5,235.2 52.0,233.6 51.5,234.0 51.0,233.5 50.5,234.5 50.0,233.5 49.5,233.6 49.0,232.9 48.5,232.8 48.0,233.5 47.5,233.0 47.0,231.6 46.5,232.2 46.0,232.3 45.5,232.6 45.0,230.9 44.5,232.5 44.0,230.6 43.5,230.6 43.0,230.1 42.5,230.5 42.0,231.0 41.5,229.0 41.0,229.3 40.5,229.4"/>
<g fill="#000"><circle cx="101.6" cy="196.9" r="1.85"/><circle cx="139.4" cy="195.8" r="1.85"/><circle cx="154.9" cy="199.3" r="1.85"/><circle cx="176.5" cy="218.3" r="1.85"/><circle cx="212.9" cy="224.3" r="1.85"/><circle cx="231.5" cy="204.6" r="1.85"/><circle cx="270.4" cy="224" r="1.85"/><circle cx="280.1" cy="222" r="1.85"/></g>
<rect x="40" y="10" width="344.8" height="256.3" fill="none" stroke="#333" stroke-width="1.7"/>
<g stroke="#333" stroke-width="1.3"><line x1="82.7" y1="266" x2="82.7" y2="261.5"/><line x1="125.8" y1="266" x2="125.8" y2="263.5"/><line x1="169.0" y1="266" x2="169.0" y2="261.5"/><line x1="212.2" y1="266" x2="212.2" y2="263.5"/><line x1="255.4" y1="266" x2="255.4" y2="261.5"/><line x1="298.6" y1="266" x2="298.6" y2="263.5"/><line x1="341.7" y1="266" x2="341.7" y2="261.5"/></g>
<g class="sans" font-size="10" fill="#111"><text x="82.7" y="280.4" text-anchor="middle">20</text><text x="169.0" y="280.4" text-anchor="middle">40</text><text x="255.4" y="280.4" text-anchor="middle">60</text><text x="341.7" y="280.4" text-anchor="middle">80</text></g>
<g class="serif" fill="#000">
<text x="321.5" y="43" font-size="15.5">d-800°C</text>
<text x="318.7" y="110.8" font-size="15.5">c-750°C</text>
<text x="322.6" y="163.5" font-size="15.5">b-700°C</text>
<text x="324.5" y="221.5" font-size="15.5">a-650°C</text>
</g>
<g class="serif" fill="#000">
<circle cx="55.7" cy="32.6" r="1.75"/>
<line x1="63.8" y1="32.8" x2="74.7" y2="32.8" stroke="#000" stroke-width="1"/>
<text x="75.9" y="37" font-size="15" font-weight="bold">V<tspan font-size="12" dy="3">2</tspan><tspan dy="-3">O</tspan><tspan font-size="12" dy="3">3</tspan></text>
</g>
<text class="serif" font-weight="bold" font-size="12.3" transform="translate(16.0,192.8) rotate(-90) scale(1,0.9)">Intensity/(Arb.unit)</text>
<text class="sans" x="196" y="299.6" font-size="10.8" font-weight="bold">2<tspan font-style="italic" dx="0.6">θ</tspan><tspan font-weight="normal" font-style="italic" dx="1.6">/</tspan><tspan dx="3.35" letter-spacing="0.4">(°)</tspan></text>
</svg>
</body></html>
